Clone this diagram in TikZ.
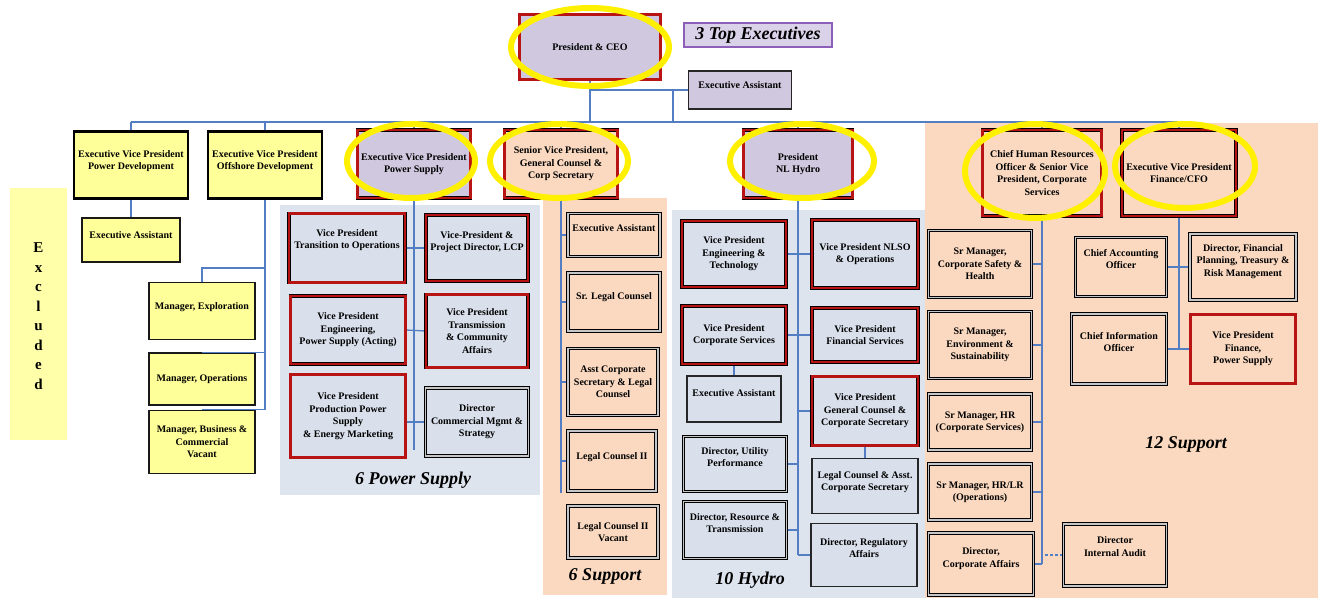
\documentclass[tikz,border=0pt]{standalone}
\usepackage{fontspec}
\setmainfont{Liberation Serif}
\usetikzlibrary{calc}

\definecolor{cyel}{RGB}{255,255,153}
\definecolor{cexc}{RGB}{255,255,170}
\definecolor{clav}{RGB}{207,200,222}
\definecolor{cpeach}{RGB}{250,217,192}
\definecolor{cslate}{RGB}{221,228,238}
\definecolor{cbox}{RGB}{217,223,235}
\definecolor{cline}{RGB}{84,126,196}
\definecolor{cred}{RGB}{185,20,20}
\definecolor{chl}{RGB}{255,240,0}
\definecolor{cpurple}{RGB}{140,95,185}
\definecolor{cptag}{RGB}{217,210,233}

\pgfdeclarelayer{bg}
\pgfsetlayers{bg,main}

\begin{document}
\begin{tikzpicture}[x=1pt,y=-1pt,
  every node/.style={font=\fontsize{10}{12.5}\selectfont\bfseries, align=center, inner sep=1pt},
  sz/.style 2 args={minimum width=#1, minimum height=#2},
  tup/.style={text depth=#1},
  yb/.style={draw=black, line width=2.6pt, fill=cyel},
  ybs/.style={draw=black!90, line width=1.6pt, fill=cyel},
  rb/.style={draw=black, line width=0.7pt, double=cred, double distance=2.4pt},
  kb/.style={draw=black, line width=1pt, double=gray!45, double distance=1.2pt},
  sb/.style={draw=black!85, line width=1.4pt},
  lav/.style={fill=clav},
  pch/.style={fill=cpeach},
  slt/.style={fill=cbox},
  conn/.style={draw=cline, line width=1.3pt},
  hl/.style={draw=chl, line width=6pt},
  tag/.style={font=\fontsize{18}{21}\selectfont\bfseries\itshape}
]
\useasboundingbox (0,0) rectangle (1327,600);

% page and group backgrounds
\begin{pgfonlayer}{bg}
  \fill[white]  (0,0) rectangle (1327,600);
  \fill[cexc]   (10,188)  rectangle (67,440);
  \fill[cslate] (280,205) rectangle (540,495);
  \fill[cpeach] (543,198) rectangle (667,595);
  \fill[cslate] (672,210) rectangle (925,598);
  \fill[cpeach] (925,123) rectangle (1318,598);
\end{pgfonlayer}

% top level
\node[rb, lav, sz={141}{65}] (ceo) at (590,47) {President \& CEO};
\node[draw=cpurple, line width=1.8pt, fill=cptag, sz={148}{24}, inner sep=0pt, tag] (topx) at (758,35) {3 Top Executives};
\node[sb, lav, sz={103}{38}, tup=10] (eatop) at (740,90) {Executive Assistant};

% second level
\node[yb, sz={114}{67}, tup=10] (evppd) at (131,165) {Executive Vice President\\Power Development};
\node[yb, sz={114}{67}, tup=10] (evpod) at (265,165) {Executive Vice President\\Offshore Development};
\node[rb, lav, sz={113}{68}] (evpps) at (414,164) {Executive Vice President\\Power Supply};
\node[rb, pch, sz={113}{68}] (svpgc) at (561,164) {Senior Vice President,\\General Counsel \&\\Corp Secretary};
\node[rb, lav, sz={109}{68}] (pres) at (798,164) {President\\NL Hydro};
\node[rb, pch, sz={119}{86}] (chro) at (1042,173) {Chief Human Resources\\Officer \& Senior Vice\\President, Corporate\\Services};
\node[rb, pch, sz={114}{86}] (cfo) at (1179,173) {Executive Vice President\\Finance/CFO};

% excluded group
\node[font=\fontsize{15}{19.5}\selectfont\bfseries] (excl) at (38.5,316) {E\\x\\c\\l\\u\\d\\e\\d};
\node[ybs, sz={98}{44}, tup=10] (ea1) at (131,240) {Executive Assistant};
\node[ybs, sz={106}{57}, tup=10] (mexp) at (202,311) {Manager, Exploration};
\node[ybs, sz={106}{52}] (mops) at (202,379) {Manager, Operations};
\node[ybs, sz={106}{63}] (mbcv) at (202,442) {Manager, Business \&\\Commercial\\Vacant};

% power supply
\node[rb, slt, sz={116}{69}, tup=18] (vpto) at (347,248) {Vice President\\Transition to Operations};
\node[rb, slt, sz={102}{66}, tup=14] (vplcp) at (477,248) {Vice-President \&\\Project Director, LCP};
\node[rb, slt, sz={115}{68}] (vpeng) at (348,330) {Vice President\\Engineering,\\Power Supply (Acting)};
\node[rb, slt, sz={102}{73}] (vptca) at (477,331) {Vice President\\Transmission\\\& Community\\Affairs};
\node[rb, slt, sz={115}{83}] (vpprod) at (348,416) {Vice President\\Production Power\\Supply\\\& Energy Marketing};
\node[kb, slt, sz={103}{68}] (dcms) at (477,422) {Director\\Commercial Mgmt \&\\Strategy};
\node[tag] (lps) at (413,480) {6 Power Supply};

% general counsel support
\node[kb, pch, sz={92}{43}, tup=14] (sea) at (614,235) {Executive Assistant};
\node[kb, pch, sz={92}{58}, tup=12] (ssl) at (614,302) {Sr. Legal Counsel};
\node[kb, pch, sz={90}{67}] (sacs) at (613,382) {Asst Corporate\\Secretary \& Legal\\Counsel};
\node[kb, pch, sz={88}{60}, tup=10] (slc2) at (612,461) {Legal Counsel II};
\node[kb, pch, sz={90}{52}] (slc2v) at (613,532) {Legal Counsel II\\Vacant};
\node[tag] (ls6) at (605,576) {6 Support};

% hydro
\node[rb, slt, sz={104}{66}] (heng) at (734,254) {Vice President\\Engineering \&\\Technology};
\node[rb, slt, sz={106}{68}] (hnlso) at (865,254) {Vice President NLSO\\\& Operations};
\node[rb, slt, sz={104}{58}] (hcs) at (734,335) {Vice President\\Corporate Services};
\node[rb, slt, sz={106}{54}] (hfs) at (865,335) {Vice President\\Financial Services};
\node[sb, slt, sz={94}{46}, tup=12] (hea) at (734,399) {Executive Assistant};
\node[rb, slt, sz={106}{69}] (hgc) at (865,411) {Vice President\\General Counsel \&\\Corporate Secretary};
\node[kb, slt, sz={103}{55}, tup=14] (hup) at (735,464) {Director, Utility\\Performance};
\node[sb, slt, sz={106}{55}, tup=10] (hlc) at (865,486) {Legal Counsel \& Asst.\\Corporate Secretary};
\node[kb, slt, sz={103}{57}, tup=14] (hrt) at (735,530) {Director, Resource \&\\Transmission};
\node[sb, slt, sz={106}{63}, tup=14] (hra) at (864,555) {Director, Regulatory\\Affairs};
\node[tag] (lhy) at (750,580) {10 Hydro};

% corporate services and finance support
\node[kb, pch, sz={103}{67}] (cs1) at (980,264) {Sr Manager,\\Corporate Safety \&\\Health};
\node[kb, pch, sz={103}{67}] (cs2) at (980,345) {Sr Manager,\\Environment \&\\Sustainability};
\node[kb, pch, sz={103}{56}] (cs3) at (980,422) {Sr Manager, HR\\(Corporate Services)};
\node[kb, pch, sz={103}{56}] (cs4) at (980,492) {Sr Manager, HR/LR\\(Operations)};
\node[kb, pch, sz={105}{62}, tup=13] (cs5) at (981,564) {Director,\\Corporate Affairs};
\node[kb, pch, sz={103}{62}, tup=17] (dia) at (1115,555) {Director\\Internal Audit};
\node[kb, pch, sz={91}{59}, tup=16] (cao) at (1121,267) {Chief Accounting\\Officer};
\node[kb, pch, sz={106}{66}, tup=13] (dfp) at (1243,267) {Director, Financial\\Planning, Treasury \&\\Risk Management};
\node[kb, pch, sz={95}{70}, tup=14] (cio) at (1119,349) {Chief Information\\Officer};
\node[rb, pch, sz={105}{69}] (vpfps) at (1243,349) {Vice President\\Finance,\\Power Supply};
\node[tag] (ls12) at (1186,444) {12 Support};

% reporting lines
\begin{pgfonlayer}{bg}
  \coordinate (mL) at (131,122);
  \coordinate (mR) at (1182,122);
  \draw[conn] (mL) -- (mR);
  \foreach \n in {evppd,evpod,evpps,svpgc,pres,chro,cfo}
    \draw[conn] (\n.north) -- (\n.north |- mL);
  \draw[conn] (ceo.south) -- (ceo.south |- mL);
  \draw[conn] (ceo.south |- eatop.west) -- (eatop.west);
  \coordinate (eaj) at (673,90);
  \draw[conn] (eaj) -- (eaj |- mL);

  % development
  \draw[conn] (evppd.south) -- (ea1.north);
  \coordinate (odA) at (265,268);
  \coordinate (odE) at (265,410);
  \draw[conn] (evpod.south) -- (odE);
  \draw[conn] (odA) -| (mexp.north);

  % power supply
  \coordinate (psE) at (414,450);
  \draw[conn] (evpps.south) -- (psE);
  \draw[conn] (vpto.east) -- (vplcp.west);
  \draw[conn] (vpeng.east) -- (vptca.west);
  \draw[conn] (vpprod.east |- dcms.west) -- (dcms.west);

  % general counsel
  \coordinate (s6E) at (561,493);
  \draw[conn] (svpgc.south) -- (s6E);
  \foreach \n in {sea,ssl,sacs,slc2}
    \draw[conn] (\n.west) -- (\n.west -| s6E);

  % hydro
  \coordinate (hE) at (798,555);
  \draw[conn] (pres.south) -- (hE);
  \draw[conn] (heng.east) -- (hnlso.west);
  \draw[conn] (hcs.east) -- (hfs.west);
  \draw[conn] (hgc.west) -- (hgc.west -| hE);
  \draw[conn] (hup.east) -- (hup.east -| hE);
  \draw[conn] (hrt.east) -- (hrt.east -| hE);
  \draw[conn] (hra.west) -- (hra.west -| hE);
  \draw[conn] (hcs.south) -- (hea.north);
  \draw[conn] (hgc.south) -- (hlc.north);

  % corporate services
  \coordinate (cE) at (1042,564);
  \draw[conn] (chro.south) -- (cE);
  \foreach \n in {cs1,cs2,cs3,cs4,cs5}
    \draw[conn] (\n.east) -- (\n.east -| cE);
  \draw[conn, dash pattern=on 3pt off 2pt] (dia.west) -- (dia.west -| cE);

  % finance
  \coordinate (fE) at (1179,349);
  \draw[conn] (cfo.south) -- (fE);
  \draw[conn] (cao.east) -- (dfp.west);
  \draw[conn] (cio.east) -- (vpfps.west);
\end{pgfonlayer}

% lines running along the top edges of the lower managers
\draw[conn] (mops.north) -- (mops.north -| odE);
\draw[conn] (mbcv.north) -- (mbcv.north -| odE);

% highlighted executives
\draw[hl] (ceo.center) ellipse [x radius=79pt, y radius=39pt];
\draw[hl] ($(evpps.center)+(-3,-3)$) ellipse [x radius=64pt, y radius=37pt];
\draw[hl] ($(svpgc.center)+(-2,-3)$) ellipse [x radius=69pt, y radius=37pt];
\draw[hl] ($(pres.center)+(4,-3)$) ellipse [x radius=72pt, y radius=37pt];
\draw[hl] ($(chro.center)+(-7,-2)$) ellipse [x radius=70pt, y radius=47pt];
\draw[hl] ($(cfo.center)+(6,-7)$) ellipse [x radius=70pt, y radius=42pt];
\end{tikzpicture}
\end{document}
